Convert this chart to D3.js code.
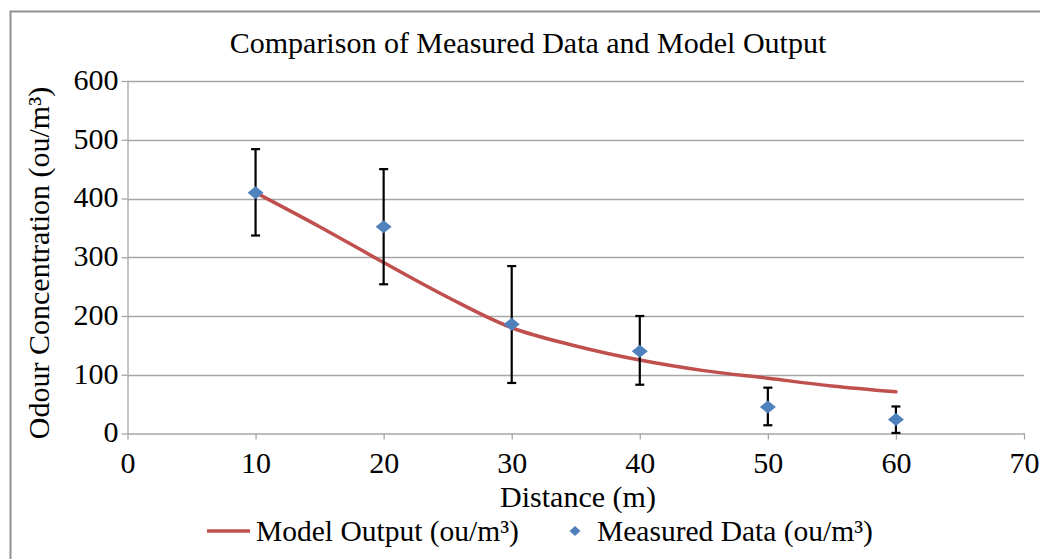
<!DOCTYPE html>
<html>
<head>
<meta charset="utf-8">
<script src="https://cdn.jsdelivr.net/npm/d3@7"></script>
<style>
  body { margin: 0; background: #fff; }
  text { font-family: "Liberation Serif", "Times New Roman", serif; fill: #000; }
</style>
</head>
<body>
<svg id="chart" width="1040" height="559"></svg>
<script>
// measured points with error bars
const distances = [10, 20, 30, 40, 50, 60];
const measured = [410, 352, 186, 140, 45, 24];
const errLow = [337, 254, 86, 83, 14, 1];
const errHigh = [484, 450, 285, 200, 78, 46];

// model curve
const modelX = [10, 15, 20, 25, 30, 35, 40, 45, 50, 55, 60];
const modelY = [410, 352, 291, 232, 180, 149, 125, 107, 94, 81, 71];

const xTicks = [0, 10, 20, 30, 40, 50, 60, 70];
const yTicks = [0, 100, 200, 300, 400, 500, 600];

const RED = "#c0504d",
  BLUE = "#4f81bd",
  GRID = "#a6a6a6";

const svg = d3.select("#chart");

// outer frame
svg
  .append("rect")
  .attr("x", 10.5)
  .attr("y", 11.5)
  .attr("width", 1100)
  .attr("height", 700)
  .attr("fill", "none")
  .attr("stroke", "#8f8f8f")
  .attr("stroke-width", 2);

const x = d3.scaleLinear().domain([0, 70]).range([127.5, 1024]);
const y = d3.scaleLinear().domain([0, 600]).range([433.5, 81]);

// gridlines
svg
  .append("g")
  .selectAll("line")
  .data(yTicks.slice(1))
  .join("line")
  .attr("x1", x(0))
  .attr("x2", x(70))
  .attr("y1", (d) => Math.round(y(d)) + 0.5)
  .attr("y2", (d) => Math.round(y(d)) + 0.5)
  .attr("stroke", GRID)
  .attr("stroke-width", 1.3);

// axes
const xAxis = svg
  .append("g")
  .attr("transform", `translate(0,${y(0)})`)
  .call(d3.axisBottom(x).tickValues(xTicks).tickSize(6).tickSizeOuter(0).tickPadding(12));
const yAxis = svg
  .append("g")
  .attr("transform", `translate(${x(0)},0)`)
  .call(d3.axisLeft(y).tickValues(yTicks).tickSize(6).tickSizeOuter(0).tickPadding(3));

[xAxis, yAxis].forEach((ax) => {
  ax.select(".domain").attr("stroke", GRID).attr("stroke-width", 1.3);
  ax.selectAll(".tick line").attr("stroke", GRID).attr("stroke-width", 1.3);
  ax.selectAll(".tick text")
    .attr("fill", "#000")
    .style("font-family", '"Liberation Serif", "Times New Roman", serif')
    .style("font-size", "30px");
});
yAxis.selectAll(".tick text").attr("dy", "0.28em");

// model line
const line = d3
  .line()
  .x((d, i) => x(modelX[i]))
  .y((d) => y(d))
  .curve(d3.curveCatmullRom.alpha(0.5));

svg
  .append("path")
  .attr("d", line(modelY))
  .attr("fill", "none")
  .attr("stroke", RED)
  .attr("stroke-width", 3.5)
  .attr("stroke-linecap", "round");

// error bars
const bars = svg.append("g").attr("stroke", "#000").attr("stroke-width", 2.2);
distances.forEach((dx, i) => {
  const cx = x(dx);
  bars.append("line").attr("x1", cx).attr("x2", cx).attr("y1", y(errLow[i])).attr("y2", y(errHigh[i]));
  [errLow[i], errHigh[i]].forEach((v) => {
    bars.append("line").attr("x1", cx - 4.5).attr("x2", cx + 4.5).attr("y1", y(v)).attr("y2", y(v));
  });
});

// measured diamonds (a bit wider than tall)
function diamondPath(w, h) {
  return `M${-w},0L0,${-h}L${w},0L0,${h}Z`;
}
svg
  .append("g")
  .selectAll("path")
  .data(measured)
  .join("path")
  .attr("d", diamondPath(8, 6.5))
  .attr("transform", (d, i) => `translate(${x(distances[i])},${y(d)})`)
  .attr("fill", BLUE);

// title
svg
  .append("text")
  .attr("x", 528)
  .attr("y", 53)
  .attr("text-anchor", "middle")
  .style("font-size", "30px")
  .text("Comparison of Measured Data and Model Output");

// axis titles
svg
  .append("text")
  .attr("x", 578)
  .attr("y", 507)
  .attr("text-anchor", "middle")
  .style("font-size", "30px")
  .text("Distance (m)");

svg
  .append("text")
  .attr("transform", "translate(49,263) rotate(-90)")
  .attr("text-anchor", "middle")
  .style("font-size", "30px")
  .text("Odour Concentration (ou/m³)");

// legend
const legend = svg.append("g");
legend
  .append("line")
  .attr("x1", 207)
  .attr("x2", 250)
  .attr("y1", 531)
  .attr("y2", 531)
  .attr("stroke", RED)
  .attr("stroke-width", 3.5);
legend
  .append("text")
  .attr("x", 256)
  .attr("y", 541)
  .style("font-size", "29.5px")
  .text("Model Output (ou/m³)");
legend
  .append("path")
  .attr("d", diamondPath(5.5, 5))
  .attr("transform", "translate(575,531)")
  .attr("fill", BLUE);
legend
  .append("text")
  .attr("x", 597)
  .attr("y", 541)
  .style("font-size", "29.5px")
  .text("Measured Data (ou/m³)");
</script>
</body>
</html>
